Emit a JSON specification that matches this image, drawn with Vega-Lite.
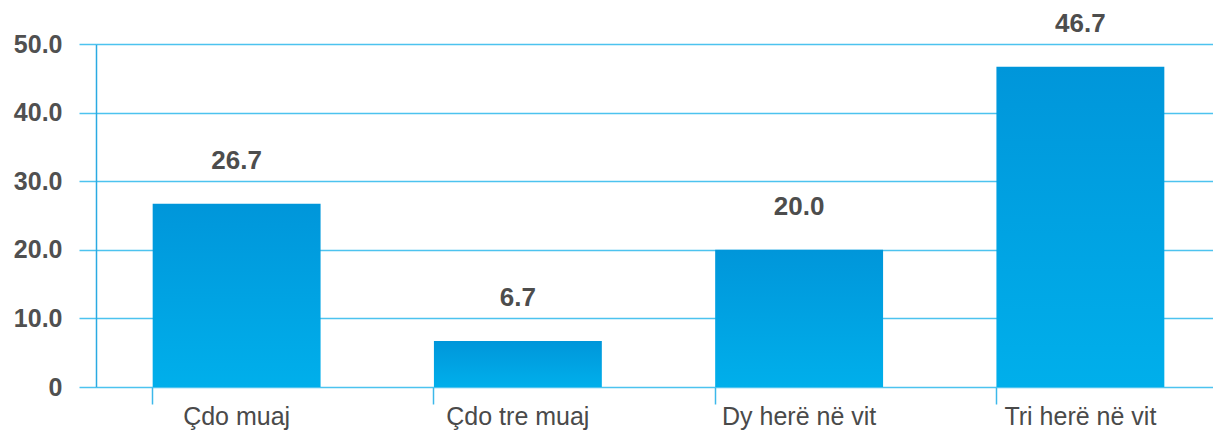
{
  "$schema": "https://vega.github.io/schema/vega-lite/v6.json",
  "autosize": {"type": "none"},
  "padding": {"left": 96, "top": 44, "right": 0, "bottom": 47},
  "width": 1117,
  "height": 343,
  "background": "white",
  "config": {"view": {"stroke": null}, "font": "Liberation Sans"},
  "data": {
    "values": [
      {"category": "Çdo muaj", "value": 26.7},
      {"category": "Çdo tre muaj", "value": 6.7},
      {"category": "Dy herë në vit", "value": 20.0},
      {"category": "Tri herë në vit", "value": 46.7}
    ]
  },
  "encoding": {
    "x": {
      "field": "category",
      "type": "nominal",
      "sort": null,
      "title": null,
      "scale": {"range": [0, 1125], "paddingInner": 0.403, "paddingOuter": 0.2015},
      "axis": {
        "domain": false,
        "bandPosition": 0,
        "ticks": true,
        "tickSize": 17,
        "tickColor": "#3db8ea",
        "tickWidth": 1.5,
        "labelAngle": 0,
        "labelFont": "Liberation Sans",
        "labelFontSize": 25,
        "labelColor": "#4a4a4a",
        "labelPadding": 0,
        "labelBaseline": "top",
        "grid": false
      }
    },
    "y": {
      "field": "value",
      "type": "quantitative",
      "title": null,
      "scale": {"domain": [0, 50], "nice": false},
      "axis": {
        "values": [0, 10, 20, 30, 40, 50],
        "labelExpr": "datum.value == 0 ? '0' : format(datum.value, '.1f')",
        "domain": true,
        "domainColor": "#2aaae2",
        "domainWidth": 1.5,
        "grid": true,
        "gridColor": "#4dc3ef",
        "gridWidth": 1.5,
        "gridOpacity": 1,
        "ticks": true,
        "tickSize": 17,
        "tickColor": "#4dc3ef",
        "tickWidth": 1.5,
        "labelFont": "Liberation Sans",
        "labelFontSize": 25,
        "labelFontWeight": "bold",
        "labelColor": "#505050",
        "labelPadding": 17
      }
    }
  },
  "layer": [
    {
      "mark": {
        "type": "bar",
        "color": {
          "gradient": "linear",
          "x1": 0, "y1": 0, "x2": 0, "y2": 1,
          "stops": [
            {"offset": 0, "color": "#0096da"},
            {"offset": 1, "color": "#00afeb"}
          ]
        }
      }
    },
    {
      "mark": {
        "type": "text",
        "dy": -43,
        "baseline": "middle",
        "align": "center",
        "font": "Liberation Sans",
        "fontSize": 26,
        "fontWeight": "bold",
        "color": "#4d4d4d"
      },
      "encoding": {
        "text": {"field": "value", "type": "quantitative", "format": ".1f"}
      }
    }
  ]
}
